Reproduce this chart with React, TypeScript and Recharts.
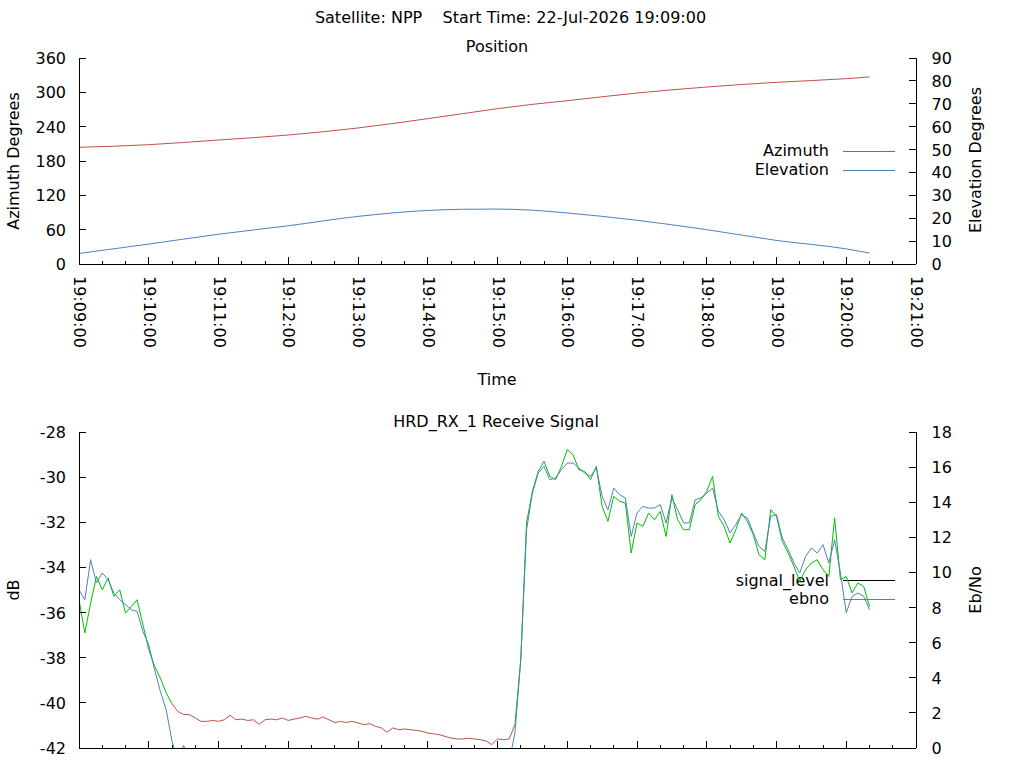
import React from 'react';
import { ComposedChart, Line, XAxis, YAxis } from 'recharts';

const FONT = '"DejaVu Sans", "Liberation Sans", sans-serif';
const RED = '#c0504d';
const BLUE = '#4f81bd';
const GREEN = '#00c000';
const BLACK = '#000000';

// ---------- text ----------
const headerText = 'Satellite: NPP    Start Time: 22-Jul-2026 19:09:00';
const positionTitle = 'Position';
const signalTitle = 'HRD_RX_1 Receive Signal';
const positionSeriesNames = ['Azimuth', 'Elevation'];
const signalSeriesNames = ['signal_level', 'ebno'];

// ---------- time axis (seconds after 19:09:00) ----------
const timeTickLabels = [
  '19:09:00', '19:10:00', '19:11:00', '19:12:00', '19:13:00', '19:14:00', '19:15:00',
  '19:16:00', '19:17:00', '19:18:00', '19:19:00', '19:20:00', '19:21:00',
];
const timeTickSeconds = [
  0, 20, 40, 60, 80, 100, 120, 140, 160, 180, 200, 220, 240, 260, 280, 300, 320, 340,
  360, 380, 400, 420, 440, 460, 480, 500, 520, 540, 560, 580, 600, 620, 640, 660, 680,
  700, 720,
];

// ---------- position panel ----------
const positionSeconds = [0, 60, 120, 180, 240, 300, 330, 360, 390, 420, 480, 540, 600, 660, 680];
const azimuthDeg = [203.9, 208.5, 216.7, 225.4, 237.7, 254.0, 262.7, 271.4, 279.0, 285.4, 298.8, 309.3, 317.5, 323.9, 326.9];
const elevationDeg = [4.6, 8.7, 13.0, 16.7, 20.8, 23.4, 23.9, 24.0, 23.5, 22.3, 19.1, 15.0, 10.3, 6.6, 4.8];
const azimuthTicks = [0, 60, 120, 180, 240, 300, 360];
const elevationTicks = [0, 10, 20, 30, 40, 50, 60, 70, 80, 90];

// ---------- receive signal panel ----------
const signalSeconds = [
  0, 5, 10, 15, 20, 25, 30, 35, 40, 45, 50, 55,
  60, 65, 70, 75, 80, 85, 90, 95, 100, 105, 110, 115,
  120, 125, 130, 135, 140, 145, 150, 155, 160, 165, 170, 175,
  180, 185, 190, 195, 200, 205, 210, 215, 220, 225, 230, 235,
  240, 245, 250, 255, 260, 265, 270, 275, 280, 285, 290, 295,
  300, 305, 310, 315, 320, 325, 330, 335, 340, 345, 350, 355,
  360, 365, 370, 375, 380, 385, 390, 395, 400, 405, 410, 415,
  420, 425, 430, 435, 440, 445, 450, 455, 460, 465, 470, 475,
  480, 485, 490, 495, 500, 505, 510, 515, 520, 525, 530, 535,
  540, 545, 550, 555, 560, 565, 570, 575, 580, 585, 590, 595,
  600, 605, 610, 615, 620, 625, 630, 635, 640, 645, 650, 655,
  660, 665, 670, 675, 680,
];
const signalLevelDb = [
  -35.43, -36.9, -35.58, -34.40, -34.99, -34.47, -35.28, -34.99, -36.02, -35.73, -35.43, -36.54,
  -37.64, -38.38, -38.90, -39.56, -40.04, -40.38, -40.52, -40.52, -40.67, -40.82, -40.82, -40.78,
  -40.82, -40.75, -40.55, -40.75, -40.72, -40.78, -40.75, -40.95, -40.75, -40.72, -40.75, -40.67,
  -40.78, -40.72, -40.67, -40.60, -40.67, -40.72, -40.63, -40.75, -40.87, -40.82, -40.87, -40.82,
  -40.89, -40.97, -40.92, -41.04, -41.11, -41.30, -41.11, -41.19, -41.16, -41.19, -41.22, -41.26,
  -41.34, -41.37, -41.41, -41.49, -41.56, -41.60, -41.60, -41.57, -41.60, -41.63, -41.68, -41.85,
  -41.60, -41.63, -41.60, -40.97, -38.09, -32.03, -30.63, -29.75, -29.30, -29.97, -30.11, -29.52,
  -28.78, -29.01, -29.67, -29.75, -30.11, -29.52, -31.30, -31.96, -30.85, -31.07, -31.15, -33.36,
  -32.03, -32.18, -31.59, -31.89, -31.52, -32.63, -30.78, -31.89, -32.33, -32.33, -31.22, -31.00,
  -30.63, -29.97, -31.74, -32.18, -32.92, -32.33, -31.59, -31.96, -32.55, -33.44, -33.66, -31.44,
  -31.74, -32.85, -33.36, -33.95, -34.62, -34.10, -33.80, -33.66, -34.10, -34.40, -31.80, -34.54,
  -34.40, -35.13, -34.69, -34.84, -35.73,
];
const ebnoValues: (number | null)[] = [
  9.02, 8.45, 10.73, 9.40, 9.97, 9.59, 8.83, 8.45, 8.16, 7.88, 7.78, 6.64,
  5.88, 4.46, 3.22, 2.18, 0.38, -0.6, 0.15, -0.8, null, null, null, null,
  null, null, null, null, null, null, null, null, null, null, null, null,
  null, null, null, null, null, null, null, null, null, null, null, null,
  null, null, null, null, null, null, null, null, null, null, null, null,
  null, null, null, null, null, null, null, null, null, null, null, null,
  null, null, -0.8, 0.85, 5.03, 12.43, 14.52, 15.66, 16.04, 15.28, 15.38, 15.85,
  16.23, 16.23, 15.95, 15.66, 15.47, 15.95, 14.33, 13.57, 14.81, 14.43, 14.24, 12.05,
  13.39, 13.76, 13.67, 13.67, 13.86, 12.82, 14.24, 13.57, 12.82, 12.82, 14.14, 14.24,
  14.52, 14.81, 13.48, 13.00, 12.25, 12.72, 13.29, 13.10, 12.25, 11.48, 11.20, 13.19,
  13.29, 11.96, 11.30, 10.54, 9.97, 10.91, 11.39, 11.11, 11.58, 10.54, 11.86, 9.97,
  7.70, 8.64, 8.83, 8.64, 7.88,
];
const dbTicks = [-42, -40, -38, -36, -34, -32, -30, -28];
const ebnoTicks = [0, 2, 4, 6, 8, 10, 12, 14, 16, 18];

// ---------- tables built from the arrays ----------
const positionRows = positionSeconds.map((t, i) => ({ t, az: azimuthDeg[i], el: elevationDeg[i] }));

const isLocked = (j: number) => {
  if (j < 0 || j >= ebnoValues.length) return true;
  const v = ebnoValues[j];
  return v != null && v > 0;
};
const signalRows = signalSeconds.map((t, i) => {
  const locked = isLocked(i);
  const nearUnlocked = !locked || !isLocked(i - 1) || !isLocked(i + 1);
  return {
    t,
    green: locked ? signalLevelDb[i] : null,
    red: nearUnlocked ? signalLevelDb[i] : null,
    ebno: ebnoValues[i],
  };
});

// ---------- tick renderers (gnuplot style: inward ticks) ----------
const MAJOR = 7;
const MINOR = 3.5;

const BottomTimeTick = (props: any) => {
  const { x, y, payload, showLabels } = props;
  const v = payload.value as number;
  const major = v % 60 === 0;
  const label = major && showLabels ? timeTickLabels[v / 60] : null;
  return (
    <g>
      <line x1={x} y1={y} x2={x} y2={y - (major ? MAJOR : MINOR)} stroke={BLACK} shapeRendering="crispEdges" />
      {label ? (
        <text
          transform={`translate(${x},${y + 12}) rotate(90)`}
          dy={5}
          fontSize={16}
          fontFamily={FONT}
          fill={BLACK}
          textAnchor="start"
        >
          {label}
        </text>
      ) : null}
    </g>
  );
};

const TopTimeTick = (props: any) => {
  const { x, y, payload } = props;
  const v = payload.value as number;
  const major = v % 60 === 0;
  return <line x1={x} y1={y} x2={x} y2={y + (major ? MAJOR : MINOR)} stroke={BLACK} shapeRendering="crispEdges" />;
};

const LeftTick = (props: any) => {
  const { x, y, payload } = props;
  return (
    <g>
      <line x1={x} y1={y} x2={x + MAJOR} y2={y} stroke={BLACK} shapeRendering="crispEdges" />
      <text x={x - 13} y={y} dy={6} textAnchor="end" fontSize={16} fontFamily={FONT} fill={BLACK}>
        {String(payload.value)}
      </text>
    </g>
  );
};

const RightTick = (props: any) => {
  const { x, y, payload } = props;
  return (
    <g>
      <line x1={x} y1={y} x2={x - MAJOR} y2={y} stroke={BLACK} shapeRendering="crispEdges" />
      <text x={x + 15.5} y={y} dy={6} textAnchor="start" fontSize={16} fontFamily={FONT} fill={BLACK}>
        {String(payload.value)}
      </text>
    </g>
  );
};

const axisLine = { stroke: BLACK, strokeWidth: 1, shapeRendering: 'crispEdges' } as any;

const textStyle: React.CSSProperties = { fontFamily: FONT, fontSize: 16, fill: BLACK } as any;

export default function App() {
  return (
    <div style={{ position: 'absolute', left: 0, top: 0, width: 1024, height: 768, overflow: 'hidden', background: '#fff' }}>
      {/* background layer: titles, axis titles, keys */}
      <svg width={1024} height={768} style={{ position: 'absolute', left: 0, top: 0 }}>
        <text x={510.5} y={23} textAnchor="middle" style={{ ...textStyle, whiteSpace: 'pre' }} xmlSpace="preserve">
          {headerText}
        </text>
        <text x={497} y={52} textAnchor="middle" style={textStyle}>{positionTitle}</text>
        <text transform="translate(19,161) rotate(-90)" textAnchor="middle" style={textStyle}>Azimuth Degrees</text>
        <text transform="translate(981,160) rotate(-90)" textAnchor="middle" style={textStyle}>Elevation Degrees</text>
        <text x={497} y={385} textAnchor="middle" style={textStyle}>Time</text>
        <text x={496} y={426.5} textAnchor="middle" style={textStyle}>{signalTitle}</text>
        <text transform="translate(19,590) rotate(-90)" textAnchor="middle" style={textStyle}>dB</text>
        <text transform="translate(981,590) rotate(-90)" textAnchor="middle" style={textStyle}>Eb/No</text>

        <text x={829} y={156} textAnchor="end" style={textStyle}>{positionSeriesNames[0]}</text>
        <line x1={843} y1={151.5} x2={895} y2={151.5} stroke={RED} shapeRendering="crispEdges" />
        <text x={829} y={175} textAnchor="end" style={textStyle}>{positionSeriesNames[1]}</text>
        <line x1={843} y1={170.5} x2={895} y2={170.5} stroke={BLUE} shapeRendering="crispEdges" />

        <text x={829} y={585.7} textAnchor="end" style={textStyle}>{signalSeriesNames[0]}</text>
        <line x1={843} y1={580.5} x2={895} y2={580.5} stroke={BLACK} shapeRendering="crispEdges" />
        <text x={829} y={604} textAnchor="end" style={textStyle}>{signalSeriesNames[1]}</text>
        <line x1={843} y1={599.5} x2={895} y2={599.5} stroke={BLUE} shapeRendering="crispEdges" />
      </svg>

      {/* Position panel */}
      <div style={{ position: 'absolute', left: 0, top: 0 }}>
        <ComposedChart width={1024} height={400} data={positionRows} margin={{ top: 58, right: 0, bottom: 0, left: 0 }}>
          <XAxis
            xAxisId="x"
            type="number"
            dataKey="t"
            domain={[0, 720]}
            ticks={timeTickSeconds}
            interval={0}
            height={136}
            tickSize={0}
            tickMargin={0}
            tickLine={false}
            axisLine={axisLine}
            tick={(p: any) => <BottomTimeTick {...p} showLabels />}
            allowDataOverflow
          />
          <XAxis
            xAxisId="top"
            orientation="top"
            type="number"
            dataKey="t"
            domain={[0, 720]}
            ticks={timeTickSeconds}
            interval={0}
            height={0}
            tickSize={0}
            tickMargin={0}
            tickLine={false}
            axisLine={axisLine}
            tick={(p: any) => <TopTimeTick {...p} />}
          />
          <YAxis
            yAxisId="az"
            orientation="left"
            width={79}
            domain={[0, 360]}
            ticks={azimuthTicks}
            interval={0}
            tickSize={0}
            tickMargin={0}
            tickLine={false}
            axisLine={axisLine}
            tick={(p: any) => <LeftTick {...p} />}
            allowDataOverflow
          />
          <YAxis
            yAxisId="el"
            orientation="right"
            width={108}
            domain={[0, 90]}
            ticks={elevationTicks}
            interval={0}
            tickSize={0}
            tickMargin={0}
            tickLine={false}
            axisLine={axisLine}
            tick={(p: any) => <RightTick {...p} />}
            allowDataOverflow
          />
          <Line xAxisId="x" yAxisId="az" type="monotone" dataKey="az" stroke={RED} strokeWidth={1} dot={false} activeDot={false} isAnimationActive={false} />
          <Line xAxisId="x" yAxisId="el" type="monotone" dataKey="el" stroke={BLUE} strokeWidth={1} dot={false} activeDot={false} isAnimationActive={false} />
        </ComposedChart>
      </div>

      {/* Receive signal panel */}
      <div style={{ position: 'absolute', left: 0, top: 0 }}>
        <ComposedChart width={1024} height={900} data={signalRows} margin={{ top: 432, right: 0, bottom: 0, left: 0 }}>
          <XAxis
            xAxisId="x"
            type="number"
            dataKey="t"
            domain={[0, 720]}
            ticks={timeTickSeconds}
            interval={0}
            height={152}
            tickSize={0}
            tickMargin={0}
            tickLine={false}
            axisLine={axisLine}
            tick={(p: any) => <BottomTimeTick {...p} showLabels={false} />}
            allowDataOverflow
          />
          <XAxis
            xAxisId="top"
            orientation="top"
            type="number"
            dataKey="t"
            domain={[0, 720]}
            ticks={timeTickSeconds}
            interval={0}
            height={0}
            tickSize={0}
            tickMargin={0}
            tickLine={false}
            axisLine={axisLine}
            tick={(p: any) => <TopTimeTick {...p} />}
          />
          <YAxis
            yAxisId="db"
            orientation="left"
            width={79}
            domain={[-42, -28]}
            ticks={dbTicks}
            interval={0}
            tickSize={0}
            tickMargin={0}
            tickLine={false}
            axisLine={axisLine}
            tick={(p: any) => <LeftTick {...p} />}
            allowDataOverflow
          />
          <YAxis
            yAxisId="eb"
            orientation="right"
            width={108}
            domain={[0, 18]}
            ticks={ebnoTicks}
            interval={0}
            tickSize={0}
            tickMargin={0}
            tickLine={false}
            axisLine={axisLine}
            tick={(p: any) => <RightTick {...p} />}
            allowDataOverflow
          />
          <Line xAxisId="x" yAxisId="db" type="linear" dataKey="red" stroke={RED} strokeWidth={1} dot={false} activeDot={false} isAnimationActive={false} />
          <Line xAxisId="x" yAxisId="db" type="linear" dataKey="green" stroke={GREEN} strokeWidth={1} dot={false} activeDot={false} isAnimationActive={false} />
          <Line xAxisId="x" yAxisId="eb" type="linear" dataKey="ebno" stroke={BLUE} strokeWidth={1} dot={false} activeDot={false} isAnimationActive={false} />
        </ComposedChart>
      </div>
    </div>
  );
}
